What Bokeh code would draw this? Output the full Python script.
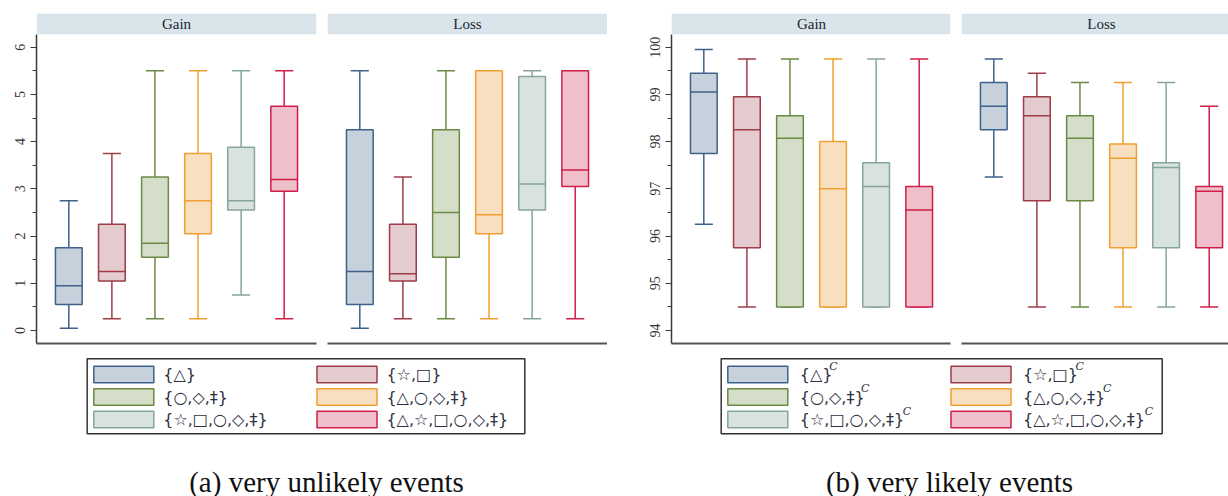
import numpy as np
from bokeh.plotting import figure
from bokeh.layouts import column, row
from bokeh.models import Range1d, FixedTicker, SingleIntervalTicker, BoxAnnotation, Label
from bokeh.core.properties import value
from bokeh.embed import file_html
from bokeh.resources import INLINE

# ---------------- data ----------------
groups = ["{△}", "{☆,□}", "{○,◇,‡}", "{△,○,◇,‡}", "{☆,□,○,◇,‡}", "{△,☆,□,○,◇,‡}"]
edge_colors = ["#3e6289", "#9e3d48", "#6a8a45", "#f0a030", "#86a59b", "#d01e48"]
fill_colors = ["#c7d1dc", "#e3cbcf", "#d4dec8", "#f8dfbf", "#d8e2df", "#efbfcb"]

# (a) very unlikely events, Gain
a_gain_min = [0.05, 0.25, 0.25, 0.25, 0.75, 0.25]
a_gain_q1 = [0.55, 1.05, 1.55, 2.05, 2.55, 2.95]
a_gain_med = [0.95, 1.25, 1.85, 2.75, 2.75, 3.20]
a_gain_q3 = [1.75, 2.25, 3.25, 3.75, 3.88, 4.75]
a_gain_max = [2.75, 3.75, 5.50, 5.50, 5.50, 5.50]
# (a) very unlikely events, Loss
a_loss_min = [0.05, 0.25, 0.25, 0.25, 0.25, 0.25]
a_loss_q1 = [0.55, 1.05, 1.55, 2.05, 2.55, 3.05]
a_loss_med = [1.25, 1.20, 2.50, 2.45, 3.10, 3.40]
a_loss_q3 = [4.25, 2.25, 4.25, 5.50, 5.38, 5.50]
a_loss_max = [5.50, 3.25, 5.50, 5.50, 5.50, 5.50]
# (b) very likely events, Gain
b_gain_min = [96.25, 94.50, 94.50, 94.50, 94.50, 94.50]
b_gain_q1 = [97.75, 95.75, 94.50, 94.50, 94.50, 94.50]
b_gain_med = [99.05, 98.25, 98.07, 97.00, 97.05, 96.55]
b_gain_q3 = [99.45, 98.95, 98.55, 98.00, 97.55, 97.05]
b_gain_max = [99.95, 99.75, 99.75, 99.75, 99.75, 99.75]
# (b) very likely events, Loss
b_loss_min = [97.25, 94.50, 94.50, 94.50, 94.50, 94.50]
b_loss_q1 = [98.25, 96.75, 96.75, 95.75, 95.75, 95.75]
b_loss_med = [98.75, 98.55, 98.07, 97.65, 97.45, 96.95]
b_loss_q3 = [99.25, 98.95, 98.55, 97.95, 97.55, 97.05]
b_loss_max = [99.75, 99.45, 99.25, 99.25, 99.25, 98.75]

panel_titles = ["Gain", "Loss"]
captions = ["(a) very unlikely events", "(b) very likely events"]

# ---------------- style / layout ----------------
AXIS_COLOR = "#3a3a3a"
STRIP_COLOR = "#d9e5ea"
SERIF = "Liberation Serif"
TOP_H = 353
BOT_H = 143
UNITS = 6.988          # data units shown in the 330 px frame
STRIP_H = 0.44         # header strip height (data units)
BOX_W = 0.62
CAP_W = 0.42
X_LO, X_HI = 0.25, 6.75
PX_PER_X = 280 / (X_HI - X_LO)


def panel(title, mins, q1, med, q3, mx, ybase, width, left, right, show_y, frame_w=280):
    y0 = ybase - 0.275
    y1 = y0 + UNITS
    x_end = X_LO + frame_w / PX_PER_X
    p = figure(width=width, height=TOP_H, x_range=Range1d(X_LO, x_end), y_range=Range1d(y0, y1),
               output_backend="svg", toolbar_location=None,
               min_border_left=left, min_border_right=right, min_border_top=13, min_border_bottom=10)
    p.grid.visible = False
    p.outline_line_color = None
    p.background_fill_color = "white"

    xs = np.arange(1, len(mins) + 1, dtype=float)
    mins, q1, med, q3, mx = map(np.asarray, (mins, q1, med, q3, mx))

    # header strip
    p.add_layout(BoxAnnotation(bottom=y1 - STRIP_H, fill_color=STRIP_COLOR, fill_alpha=1.0, line_color=None))
    p.add_layout(Label(x=(X_LO + X_HI) / 2, y=y1 - STRIP_H / 2, text=title, text_align="center",
                       text_baseline="middle", text_font=SERIF, text_font_size="15px", text_color="#1c2333"))

    # whiskers
    p.segment(x0=xs, y0=q3, x1=xs, y1=mx, line_color=edge_colors, line_width=1.5)
    p.segment(x0=xs, y0=q1, x1=xs, y1=mins, line_color=edge_colors, line_width=1.5)
    p.segment(x0=xs - CAP_W / 2, y0=mx, x1=xs + CAP_W / 2, y1=mx, line_color=edge_colors, line_width=1.5)
    p.segment(x0=xs - CAP_W / 2, y0=mins, x1=xs + CAP_W / 2, y1=mins, line_color=edge_colors, line_width=1.5)
    # boxes
    p.vbar(x=xs, bottom=q1, top=q3, width=BOX_W, fill_color=fill_colors, line_color=edge_colors, line_width=1.5)
    # medians
    p.segment(x0=xs - BOX_W / 2, y0=med, x1=xs + BOX_W / 2, y1=med, line_color=edge_colors, line_width=1.5)

    # x axis: bare line
    xa = p.xaxis[0]
    xa.ticker = FixedTicker(ticks=[])
    xa.major_label_text_font_size = "0px"
    xa.major_tick_out = 0
    xa.minor_tick_out = 0
    xa.major_label_standoff = 0
    xa.axis_line_color = "#555555"
    xa.axis_line_width = 2

    ya = p.yaxis[0]
    if show_y:
        ya.ticker = SingleIntervalTicker(interval=1, num_minor_ticks=2)
        ya.bounds = (y0, y1 - STRIP_H)
        ya.axis_line_color = AXIS_COLOR
        ya.axis_line_width = 1.5
        ya.major_tick_line_color = AXIS_COLOR
        ya.minor_tick_line_color = AXIS_COLOR
        ya.major_tick_line_width = 1.2
        ya.minor_tick_line_width = 1.2
        ya.major_tick_out = 6
        ya.major_tick_in = 0
        ya.minor_tick_out = 4
        ya.minor_tick_in = 0
        ya.major_label_orientation = "vertical"
        ya.major_label_standoff = 5
        ya.major_label_text_font = SERIF
        ya.major_label_text_font_size = "14px"
        ya.major_label_text_color = "#333333"
    else:
        ya.visible = False
    return p


pa_g = panel(panel_titles[0], a_gain_min, a_gain_q1, a_gain_med, a_gain_q3, a_gain_max, 0, 321, 36, 5, True)
pa_l = panel(panel_titles[1], a_loss_min, a_loss_q1, a_loss_med, a_loss_q3, a_loss_max, 0, 286, 6, 0, False)
pb_g = panel(panel_titles[0], b_gain_min, b_gain_q1, b_gain_med, b_gain_q3, b_gain_max, 94, 348, 64, 5, True,
             frame_w=279)
pb_l = panel(panel_titles[1], b_loss_min, b_loss_q1, b_loss_med, b_loss_q3, b_loss_max, 94, 273, 6, 0, False,
             frame_w=267)

# ---------------- legends + captions ----------------
# approximate advance widths (em) of the legend font, used to place the superscript "C"
EM = {"{": 0.45, "}": 0.45, ",": 0.318, "△": 0.85, "☆": 0.97, "□": 1.0, "○": 0.85, "◇": 0.85, "‡": 0.5}
LEG_FONT = 16


def text_w(s):
    return sum(EM.get(c, 0.6) for c in s) * LEG_FONT


def legend_fig(width, box_left, box_w, text_off, sup, caption, cap_x):
    p = figure(width=width, height=BOT_H, x_range=Range1d(0, width), y_range=Range1d(BOT_H, 0),
               output_backend="svg", toolbar_location=None, x_axis_type=None, y_axis_type=None,
               min_border=0)
    p.grid.visible = False
    p.outline_line_color = None
    box_top, box_bot = 5.3, 80.3
    p.quad(left=[box_left], right=[box_left + box_w], top=[box_top], bottom=[box_bot],
           fill_color=None, line_color="#333333", line_width=1.5)
    n = len(groups)
    idx = np.arange(n)
    col = idx % 2
    rw = idx // 2
    sw_left = box_left + 6.6 + col * 223.2
    cy = box_top + 15.7 + rw * 22.5
    p.quad(left=sw_left, right=sw_left + 60, top=cy - 8.3, bottom=cy + 8.3,
           fill_color=fill_colors, line_color=edge_colors, line_width=1.5)
    tx = sw_left + text_off
    p.text(x=tx, y=cy, text=groups, text_font=value("DejaVu Sans"), text_font_size=f"{LEG_FONT}px",
           text_baseline="middle", text_align="left", text_color="#2d3142")
    if sup:
        sx = tx + np.array([text_w(g) for g in groups]) + 1.5
        p.text(x=sx, y=cy - 2, text=["C"] * n, text_font=value("DejaVu Serif"), text_font_style="italic",
               text_font_size="11px", text_baseline="bottom", text_align="left", text_color="#2d3142")
    p.text(x=[cap_x], y=[128], text=[caption], text_font=value(SERIF), text_font_size="29px",
           text_baseline="middle", text_align="center", text_color="#111111")
    return p


la = legend_fig(607, 86.7, 437.6, 69.4, False, captions[0], 326)
lb = legend_fig(621, 113.7, 441.0, 72.0, True, captions[1], 342)

layout = column(row(pa_g, pa_l, pb_g, pb_l), row(la, lb))
open("out.html", "w").write(file_html(layout, INLINE))
